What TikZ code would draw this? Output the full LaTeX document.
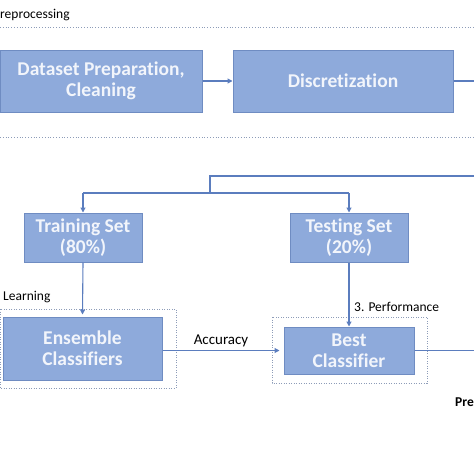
\documentclass[tikz,border=0pt]{standalone}
\usepackage{fontspec}
\setmainfont{Carlito}[Ligatures=NoCommon]
\usetikzlibrary{arrows.meta}
\definecolor{boxfill}{HTML}{8EAADB}
\definecolor{boxline}{HTML}{6F8CC2}
\definecolor{linkc}{HTML}{5B7DBE}
\definecolor{dotc}{HTML}{8D9CB8}
\definecolor{boxtext}{HTML}{F2F5FB}
\tikzset{
  procbox/.style={draw=boxline, fill=boxfill, line width=1pt, text=boxtext,
    font=\fontsize{19.5}{21}\selectfont\bfseries, align=center, inner sep=0pt},
  link/.style={draw=linkc, line width=1.1pt},
  arrowlink/.style={link, -{Triangle[length=5pt,width=5pt]}},
  groupbox/.style={draw=dotc, line width=0.9pt, dash pattern=on 1pt off 1.5pt},
  sepline/.style={draw=dotc, line width=0.9pt, dash pattern=on 1pt off 1.8pt},
  lbl/.style={font=\fontsize{13.5}{15}\selectfont, inner sep=0pt, text=black}
}
\begin{document}
\begin{tikzpicture}[x=1pt,y=-1pt]
\useasboundingbox (0,0) rectangle (474,474);
% section text and separators
\node[lbl, anchor=west] (pre1) at (0,15) {reprocessing};
\coordinate (s1a) at (0,27); \coordinate (s1b) at (474,27);
\coordinate (s2a) at (0,137); \coordinate (s2b) at (474,137);
\draw[sepline] (s1a) -- (s1b);
\draw[sepline] (s2a) -- (s2b);
% boxes
\node[procbox, minimum width=202pt, minimum height=62pt] (prep) at (101,81) {Dataset Preparation,\\Cleaning};
\node[procbox, minimum width=220pt, minimum height=62pt] (disc) at (343,81) {Discretization};
\node[procbox, minimum width=118pt, minimum height=49pt] (train) at (83,237.5) {Training Set\\(80\%)};
\node[procbox, minimum width=118pt, minimum height=49pt] (test) at (349,237.5) {Testing Set\\(20\%)};
\node[procbox, minimum width=159pt, minimum height=63pt] (ens) at (82.5,348.5) {Ensemble\\Classifiers};
\node[procbox, minimum width=130pt, minimum height=47pt] (best) at (349,350.5) {Best\\Classifier};
% group boxes
\coordinate (g1a) at (0,309); \coordinate (g1b) at (176,388);
\coordinate (g2a) at (272,317); \coordinate (g2b) at (427,383);
\draw[groupbox] (g1a) rectangle (g1b);
\draw[groupbox] (g2a) rectangle (g2b);
% connectors
\coordinate (discout) at (474,81);
\coordinate (topin) at (474,176);
\coordinate (tj) at (210,176);
\coordinate (bj) at (210,193);
\coordinate (tl) at (83,193);
\coordinate (tr) at (349,193);
\coordinate (bestout) at (474,350.5);
\draw[arrowlink] (prep.east) -- (disc.west);
\draw[link] (disc.east) -- (discout);
\draw[link] (topin) -- (tj) -- (bj);
\draw[link] (tl) -- (tr);
\draw[arrowlink] (tl) -- (train.north);
\draw[arrowlink] (tr) -- (test.north);
\draw[arrowlink] (train.south) -- ([yshift=2pt]ens.north);
\draw[arrowlink] (test.south) -- (best.north);
\draw[arrowlink] (ens.east |- best.west) -- ([xshift=-4pt]best.west);
\draw[link] (best.east) -- (bestout);
% labels
\node[lbl, anchor=west] (learn) at (3,297) {Learning};
\node[lbl, anchor=west] (perf) at (354,307) {3. Performance};
\node[lbl, font=\fontsize{15}{17}\selectfont] (acc) at (221,341) {Accuracy};
\node[lbl, anchor=east, font=\fontsize{13.5}{15}\selectfont\bfseries] (pre2) at (474,402) {Pre};
\end{tikzpicture}
\end{document}
